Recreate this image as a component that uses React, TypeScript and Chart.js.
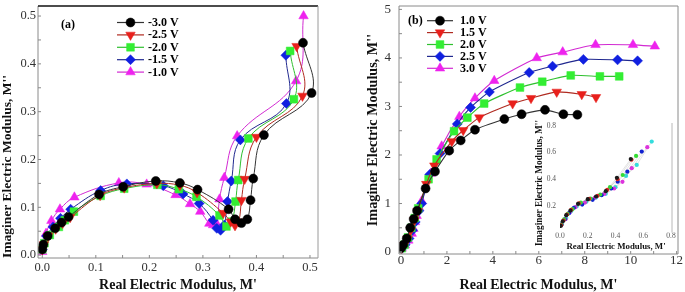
import React, { useEffect, useRef } from 'react';
import { Chart, registerables } from 'chart.js';
import { drawPoint } from 'chart.js/helpers';

Chart.register(...registerables);

// ---------------- Panel (a) data ----------------
const aSeriesLabels = ['-3.0 V', '-2.5 V', '-2.0 V', '-1.5 V', '-1.0 V'];
const aM30X = [0.000, 0.002, 0.010, 0.024, 0.036, 0.049, 0.106, 0.151, 0.212, 0.257, 0.290, 0.348, 0.360, 0.372, 0.383, 0.389, 0.394, 0.414, 0.503, 0.487];
const aM30Y = [0.012, 0.022, 0.040, 0.056, 0.068, 0.080, 0.127, 0.143, 0.155, 0.151, 0.137, 0.096, 0.075, 0.067, 0.075, 0.115, 0.160, 0.251, 0.339, 0.444];
const aM25X = [0.000, 0.003, 0.011, 0.025, 0.038, 0.052, 0.108, 0.153, 0.214, 0.257, 0.289, 0.338, 0.352, 0.360, 0.367, 0.372, 0.378, 0.400, 0.486, 0.475];
const aM25Y = [0.012, 0.022, 0.040, 0.055, 0.067, 0.079, 0.125, 0.141, 0.150, 0.146, 0.131, 0.088, 0.070, 0.062, 0.070, 0.115, 0.159, 0.247, 0.333, 0.437];
const aM20X = [0.000, 0.004, 0.014, 0.031, 0.042, 0.059, 0.109, 0.153, 0.215, 0.255, 0.288, 0.331, 0.344, 0.354, 0.361, 0.366, 0.385, 0.470, 0.463];
const aM20Y = [0.012, 0.025, 0.042, 0.059, 0.073, 0.091, 0.124, 0.139, 0.147, 0.138, 0.122, 0.083, 0.060, 0.070, 0.112, 0.157, 0.244, 0.326, 0.427];
const aM15X = [0.000, 0.008, 0.020, 0.034, 0.053, 0.109, 0.158, 0.226, 0.263, 0.293, 0.319, 0.326, 0.333, 0.340, 0.346, 0.353, 0.370, 0.456, 0.455];
const aM15Y = [0.012, 0.040, 0.059, 0.077, 0.096, 0.135, 0.149, 0.145, 0.128, 0.108, 0.073, 0.056, 0.052, 0.063, 0.112, 0.155, 0.241, 0.317, 0.418];
const aM10X = [0.000, 0.002, 0.007, 0.017, 0.033, 0.060, 0.143, 0.195, 0.249, 0.276, 0.295, 0.312, 0.319, 0.326, 0.331, 0.340, 0.364, 0.474, 0.488];
const aM10Y = [0.007, 0.024, 0.045, 0.072, 0.096, 0.121, 0.151, 0.148, 0.126, 0.107, 0.091, 0.066, 0.063, 0.065, 0.117, 0.162, 0.249, 0.364, 0.500];
const aTicks = [0, 0.1, 0.2, 0.3, 0.4, 0.5];

// ---------------- Panel (b) data ----------------
const bSeriesLabels = ['1.0 V', '1.5 V', '2.0 V', '2.5 V', '3.0 V'];
const b10X = [0.00, 0.10, 0.25, 0.40, 0.55, 0.70, 1.07, 1.48, 2.10, 2.60, 3.22, 4.50, 5.25, 6.27, 7.07, 7.68];
const b10Y = [0.08, 0.15, 0.28, 0.50, 0.68, 0.85, 1.31, 1.66, 2.09, 2.30, 2.52, 2.74, 2.84, 2.93, 2.84, 2.83];
const b15X = [0.02, 0.12, 0.28, 0.42, 0.58, 0.72, 1.10, 1.45, 2.21, 2.71, 3.41, 4.86, 5.66, 6.78, 7.87, 8.49];
const b15Y = [0.07, 0.14, 0.27, 0.45, 0.65, 0.84, 1.40, 1.78, 2.28, 2.51, 2.77, 3.06, 3.17, 3.30, 3.25, 3.19];
const b20X = [0.03, 0.15, 0.30, 0.45, 0.60, 0.75, 1.20, 1.55, 2.31, 2.89, 3.62, 5.18, 6.15, 7.39, 8.66, 9.50];
const b20Y = [0.08, 0.15, 0.30, 0.50, 0.70, 0.90, 1.50, 1.91, 2.49, 2.77, 3.06, 3.39, 3.51, 3.64, 3.62, 3.62];
const b25X = [0.03, 0.18, 0.35, 0.50, 0.62, 0.78, 0.90, 1.25, 1.70, 2.45, 3.03, 3.85, 5.58, 6.60, 7.94, 9.43, 10.30];
const b25Y = [0.07, 0.15, 0.28, 0.45, 0.62, 0.85, 1.00, 1.60, 2.03, 2.64, 2.98, 3.30, 3.70, 3.83, 3.97, 3.96, 3.94];
const b30X = [0.03, 0.17, 0.32, 0.47, 0.54, 0.61, 0.68, 0.78, 0.90, 1.30, 1.77, 2.54, 3.22, 4.06, 5.91, 7.04, 8.47, 10.10, 11.05];
const b30Y = [0.075, 0.14, 0.24, 0.38, 0.48, 0.62, 0.75, 0.92, 1.05, 1.62, 2.18, 2.79, 3.17, 3.53, 4.00, 4.12, 4.27, 4.27, 4.24];
const bXTicks = [0, 2, 4, 6, 8, 10, 12];
const bYTicks = [0, 1, 2, 3, 4, 5];

// ---------------- Inset data ----------------
const iBlackX = [0.005, 0.020, 0.045, 0.075, 0.130, 0.200, 0.260, 0.330, 0.410, 0.510];
const iBlackY = [0.050, 0.085, 0.130, 0.165, 0.215, 0.250, 0.270, 0.310, 0.410, 0.550];
const iRedX = [0.008, 0.025, 0.050, 0.080, 0.135, 0.210, 0.270, 0.340, 0.415, 0.515];
const iRedY = [0.055, 0.090, 0.135, 0.170, 0.218, 0.252, 0.275, 0.320, 0.400, 0.545];
const iGreenX = [0.010, 0.030, 0.055, 0.090, 0.150, 0.220, 0.290, 0.360, 0.452, 0.548];
const iGreenY = [0.060, 0.100, 0.140, 0.175, 0.225, 0.255, 0.285, 0.340, 0.431, 0.574];
const iBlueX = [0.010, 0.035, 0.065, 0.100, 0.160, 0.235, 0.300, 0.370, 0.416, 0.485, 0.589];
const iBlueY = [0.060, 0.100, 0.145, 0.185, 0.210, 0.245, 0.280, 0.330, 0.381, 0.456, 0.606];
const iMagentaX = [0.012, 0.040, 0.070, 0.110, 0.180, 0.250, 0.320, 0.390, 0.450, 0.517, 0.629];
const iMagentaY = [0.060, 0.100, 0.150, 0.190, 0.225, 0.260, 0.290, 0.330, 0.380, 0.482, 0.639];
const iCyanX = [0.015, 0.045, 0.080, 0.120, 0.190, 0.260, 0.330, 0.400, 0.476, 0.553, 0.661];
const iCyanY = [0.065, 0.110, 0.160, 0.195, 0.230, 0.262, 0.290, 0.340, 0.424, 0.506, 0.681];
const iXTicks = [0, 0.2, 0.4, 0.6, 0.8];
const iYTicks = [0.2, 0.4, 0.6, 0.8];

const SERIF = '"Liberation Serif", "Times New Roman", serif';

const zip = (xs: number[], ys: number[]) => xs.map((x, i) => ({ x, y: ys[i] }));

const markerColors = ['#000000', '#e8201c', '#33ee33', '#1020e0', '#ee22ee'];
const lineColorsA = ['#333333', '#b02a20', '#2fc02f', '#20288f', '#d22ad2'];
const pointStyles: any[] = ['circle', 'triangle', 'rect', 'rectRot', 'triangle'];
const pointRadii = [4.5, 5.5, 5.5, 5, 5.5];
const pointRots = [0, 180, 0, 0, 0];

function makeDatasets(labels: string[], xs: number[][], ys: number[][], lineColors: string[], tension: number, bw: number) {
  return labels.map((label, i) => ({
    label,
    data: zip(xs[i], ys[i]),
    showLine: true,
    borderColor: lineColors[i],
    borderWidth: bw,
    tension,
    pointStyle: pointStyles[i],
    pointRotation: pointRots[i],
    pointRadius: pointRadii[i],
    pointBackgroundColor: markerColors[i],
    pointBorderColor: markerColors[i],
    pointBorderWidth: 0.5,
  }));
}

const framePlugin = {
  id: 'frame',
  afterDraw(chart: any, _args: any, opts: any) {
    const { ctx, chartArea: ca, scales } = chart;
    const xs = scales.x, ys = scales.y;
    ctx.save();
    const seg = (x1: number, y1: number, x2: number, y2: number) => {
      ctx.beginPath(); ctx.moveTo(x1, y1); ctx.lineTo(x2, y2); ctx.stroke();
    };
    ctx.strokeStyle = opts.axisColor || '#8a8a8a';
    ctx.lineWidth = 1;
    if (opts.axes !== false) {
      seg(ca.left, ca.top, ca.left, ca.bottom);
      seg(ca.left, ca.bottom, ca.right, ca.bottom);
      const nx = Math.round((opts.xEnd - opts.xStart) / opts.xMinor);
      for (let k = 0; k <= nx; k++) {
        const px = xs.getPixelForValue(opts.xStart + k * opts.xMinor);
        if (px < ca.left - 0.5 || px > ca.right + 0.5) continue;
        seg(px, ca.bottom, px, ca.bottom - opts.tickLen);
      }
      const ny = Math.round((opts.yEnd - opts.yStart) / opts.yMinor);
      for (let k = 0; k <= ny; k++) {
        const py = ys.getPixelForValue(opts.yStart + k * opts.yMinor);
        if (py < ca.top - 0.5 || py > ca.bottom + 0.5) continue;
        seg(ca.left, py, ca.left + opts.tickLen, py);
      }
    }
    if (opts.top) {
      ctx.strokeStyle = opts.topColor;
      ctx.lineWidth = opts.topWidth;
      seg(ca.left, ca.top, ca.right, ca.top);
    }
    if (opts.right) {
      ctx.strokeStyle = opts.rightColor;
      ctx.lineWidth = 1;
      seg(ca.right, (opts.rightTop ?? ca.top), ca.right, (opts.rightBottom ?? ca.bottom));
    }
    ctx.restore();
  },
};

const legendPlugin = {
  id: 'curveLegend',
  afterDraw(chart: any, _args: any, opts: any) {
    const { ctx } = chart;
    ctx.save();
    ctx.textBaseline = 'middle';
    ctx.fillStyle = '#000';
    ctx.font = `bold ${opts.tagSize}px ${SERIF}`;
    ctx.textAlign = 'left';
    ctx.fillText(opts.tag, opts.tagX, opts.tagY);
    chart.data.datasets.forEach((ds: any, i: number) => {
      const y = opts.y0 + i * opts.dy;
      ctx.strokeStyle = ds.borderColor;
      ctx.lineWidth = 1.2;
      ctx.beginPath(); ctx.moveTo(opts.x0, y); ctx.lineTo(opts.x1, y); ctx.stroke();
      ctx.fillStyle = ds.pointBackgroundColor;
      ctx.strokeStyle = ds.pointBorderColor;
      ctx.lineWidth = 0.5;
      drawPoint(ctx, { pointStyle: ds.pointStyle, rotation: ds.pointRotation || 0, radius: ds.pointRadius, borderWidth: 0.5 } as any, (opts.x0 + opts.x1) / 2, y);
      ctx.fillStyle = '#000';
      ctx.font = `bold ${opts.textSize}px ${SERIF}`;
      ctx.fillText(ds.label, opts.tx, y + 0.5);
    });
    ctx.restore();
  },
};

const insetTitlePlugin = {
  id: 'insetTitles',
  afterDraw(chart: any) {
    const { ctx } = chart;
    ctx.save();
    ctx.fillStyle = '#111';
    ctx.textBaseline = 'middle';
    ctx.textAlign = 'center';
    ctx.font = `bold 8.8px ${SERIF}`;
    ctx.fillText("Real Electric Modulus, M'", 88, 137);
    ctx.translate(12, 0);
    ctx.rotate(-Math.PI / 2);
    ctx.textAlign = 'left';
    ctx.font = `bold 9.3px ${SERIF}`;
    ctx.fillText("Imaginer Electric Modulus, M''", -136, 0);
    ctx.restore();
  },
};

function fixW(w: number) {
  return (s: any) => { s.width = w; s.paddingTop = 0; s.paddingBottom = 0; s.paddingLeft = 0; s.paddingRight = 0; };
}
function fixH(h: number) {
  return (s: any) => { s.height = h; s.paddingTop = 0; s.paddingBottom = 0; s.paddingLeft = 0; s.paddingRight = 0; };
}

function tickFont(size: number) {
  return { family: SERIF, size, lineHeight: 1 };
}

const noGrid = { display: false, drawTicks: false };

function useChart(ref: React.RefObject<HTMLCanvasElement | null>, make: () => any) {
  useEffect(() => {
    if (!ref.current) return;
    const c = new Chart(ref.current, make());
    return () => c.destroy();
  }, []);
}

function configA() {
  return {
    type: 'scatter',
    data: {
      datasets: makeDatasets(aSeriesLabels, [aM30X, aM25X, aM20X, aM15X, aM10X], [aM30Y, aM25Y, aM20Y, aM15Y, aM10Y], lineColorsA, 0.4, 1),
    },
    plugins: [framePlugin, legendPlugin],
    options: {
      responsive: false,
      animation: false,
      events: [],
      layout: { padding: { top: 6, right: 22, left: 0, bottom: 0 } },
      plugins: {
        legend: { display: false },
        tooltip: { enabled: false },
        frame: { xStart: 0, xEnd: 0.5, xMinor: 0.05, yStart: 0, yEnd: 0.5, yMinor: 0.05, tickLen: 3, top: true, topColor: '#111', topWidth: 1.6, right: true, rightColor: '#9a9a9a' },
        curveLegend: { tag: '(a)', tagSize: 12, tagX: 61, tagY: 25, x0: 117, x1: 144, tx: 148, y0: 22.5, dy: 12.4, textSize: 12 },
      },
      scales: {
        x: {
          type: 'linear', min: -0.008, max: 0.515,
          grid: noGrid, border: { display: false },
          afterBuildTicks: (s: any) => { s.ticks = aTicks.map(v => ({ value: v })); },
          ticks: { callback: (v: any) => Number(v).toFixed(1), font: tickFont(12.5), color: '#333', padding: 3, maxRotation: 0 },
          title: { display: true, text: "Real Electric Modulus, M'", font: { family: SERIF, size: 14, weight: 'bold', lineHeight: 1 }, color: '#111', padding: { top: 0, bottom: 0 } },
          afterFit: fixH(34),
        },
        y: {
          type: 'linear', min: -0.006, max: 0.521,
          grid: noGrid, border: { display: false },
          afterBuildTicks: (s: any) => { s.ticks = aTicks.map(v => ({ value: v })); },
          ticks: { callback: (v: any) => Number(v).toFixed(1), font: tickFont(12.5), color: '#333', padding: 2 },
          title: { display: true, text: "Imaginer Electric Modulus, M''", align: 'start', font: { family: SERIF, size: 13.5, weight: 'bold', lineHeight: 1 }, color: '#111', padding: { top: 1, bottom: 0 } },
          afterFit: fixW(38),
        },
      },
    },
  };
}

function configB() {
  return {
    type: 'scatter',
    data: {
      datasets: makeDatasets(bSeriesLabels, [b10X, b15X, b20X, b25X, b30X], [b10Y, b15Y, b20Y, b25Y, b30Y], lineColorsA, 0.2, 1.1),
    },
    plugins: [framePlugin, legendPlugin],
    options: {
      responsive: false,
      animation: false,
      events: [],
      layout: { padding: { top: 3, right: 7, left: 0, bottom: 0 } },
      plugins: {
        legend: { display: false },
        tooltip: { enabled: false },
        frame: { xStart: 0, xEnd: 12, xMinor: 1, yStart: 0, yEnd: 5, yMinor: 0.5, tickLen: 3, top: true, topColor: '#8a8a8a', topWidth: 1, right: true, rightColor: '#8a8a8a' },
        curveLegend: { tag: '(b)', tagSize: 12, tagX: 63, tagY: 20.7, x0: 82, x1: 108, tx: 115, y0: 20.7, dy: 11.9, textSize: 12 },
      },
      scales: {
        x: {
          type: 'linear', min: -0.087, max: 12.06,
          grid: noGrid, border: { display: false },
          afterBuildTicks: (s: any) => { s.ticks = bXTicks.map(v => ({ value: v })); },
          ticks: { callback: (v: any) => String(v), font: tickFont(13), color: '#333', padding: 0, maxRotation: 0 },
          title: { display: true, text: "Real Electric Modulus, M'", font: { family: SERIF, size: 14, weight: 'bold', lineHeight: 1 }, color: '#111', padding: { top: 0, bottom: 0 } },
          afterFit: fixH(38),
        },
        y: {
          type: 'linear', min: -0.04, max: 5.07,
          grid: noGrid, border: { display: false },
          afterBuildTicks: (s: any) => { s.ticks = bYTicks.map(v => ({ value: v })); },
          ticks: { callback: (v: any) => String(v), font: tickFont(13), color: '#333', padding: 8 },
          title: { display: true, text: "Imaginer Electric Modulus, M''", font: { family: SERIF, size: 14.2, weight: 'bold', lineHeight: 1 }, color: '#111', padding: { top: 21.5, bottom: 0 } },
          afterFit: fixW(54),
        },
      },
    },
  };
}

function configInset() {
  const cols = ['#1a1a1a', '#e02020', '#33dd33', '#1020d0', '#dd33dd', '#33dddd'];
  const xs = [iBlackX, iRedX, iGreenX, iBlueX, iMagentaX, iCyanX];
  const ys = [iBlackY, iRedY, iGreenY, iBlueY, iMagentaY, iCyanY];
  return {
    type: 'scatter',
    data: {
      datasets: cols.map((c, i) => ({
        label: 'inset' + i,
        data: zip(xs[i], ys[i]),
        showLine: true,
        borderColor: 'rgba(120,120,120,0.4)',
        borderWidth: 0.5,
        pointRadius: 2.1,
        pointBackgroundColor: c,
        pointBorderColor: c,
        pointBorderWidth: 0,
      })),
    },
    plugins: [framePlugin, insetTitlePlugin],
    options: {
      responsive: false,
      animation: false,
      events: [],
      layout: { padding: { top: 13, right: 8, left: 0, bottom: 0 } },
      plugins: {
        legend: { display: false },
        tooltip: { enabled: false },
        frame: { axes: false, top: false, right: true, rightColor: '#b8b8b8' },
      },
      scales: {
        x: {
          type: 'linear', min: 0, max: 0.807,
          grid: noGrid, border: { display: false },
          afterBuildTicks: (s: any) => { s.ticks = iXTicks.map(v => ({ value: v })); },
          ticks: { callback: (v: any) => Number(v).toFixed(1), font: tickFont(7.5), color: '#555', padding: 0, maxRotation: 0 },
          afterFit: fixH(29.4),
        },
        y: {
          type: 'linear', min: 0, max: 0.82,
          grid: noGrid, border: { display: false },
          afterBuildTicks: (s: any) => { s.ticks = iYTicks.map(v => ({ value: v })); },
          ticks: { callback: (v: any) => Number(v).toFixed(1), font: tickFont(7.5), color: '#555', padding: 4 },
          afterFit: fixW(32),
        },
      },
    },
  };
}

export default function App() {
  const refA = useRef<HTMLCanvasElement>(null);
  const refB = useRef<HTMLCanvasElement>(null);
  const refI = useRef<HTMLCanvasElement>(null);
  useChart(refA, configA);
  useChart(refB, configB);
  useChart(refI, configInset);
  return (
    <div style={{ position: 'fixed', left: 0, top: 0, width: 685, height: 292, background: '#fff', overflow: 'hidden' }}>
      <canvas ref={refA} width={340} height={292} style={{ position: 'absolute', left: 0, top: 0, width: 340, height: 292 }} />
      <canvas ref={refB} width={340} height={292} style={{ position: 'absolute', left: 345, top: 0, width: 340, height: 292 }} />
      <canvas ref={refI} width={152} height={152} style={{ position: 'absolute', left: 528, top: 110, width: 152, height: 152 }} />
    </div>
  );
}
